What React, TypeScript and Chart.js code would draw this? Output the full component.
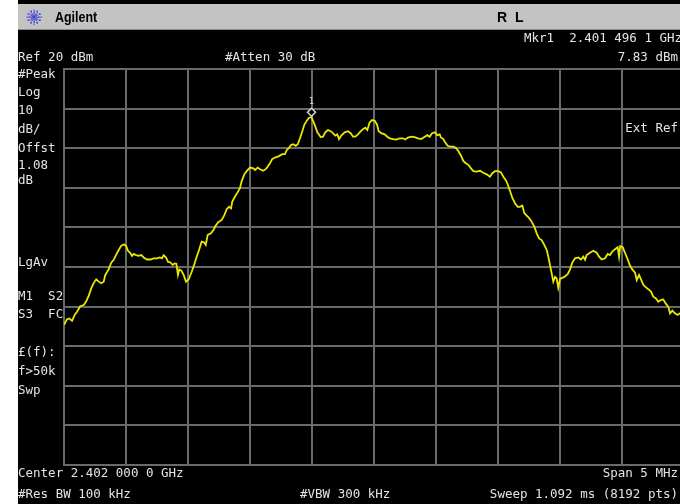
import React, { useEffect, useRef } from "react";
import { Chart, registerables } from "chart.js";

Chart.register(...registerables);

// ---- Data (frequency in MHz, level in dBm) ----
const FREQ_MHZ = [
  2399.5, 2399.524, 2399.543, 2399.565, 2399.586, 2399.605, 2399.631, 2399.659, 2399.677, 2399.699,
  2399.72, 2399.74, 2399.76, 2399.78, 2399.801, 2399.82, 2399.833, 2399.86, 2399.881, 2399.901,
  2399.919, 2399.941, 2399.962, 2399.984, 2400.0, 2400.016, 2400.035, 2400.048, 2400.062, 2400.081,
  2400.102, 2400.123, 2400.143, 2400.169, 2400.196, 2400.223, 2400.25, 2400.272, 2400.29, 2400.304,
  2400.323, 2400.339, 2400.357, 2400.377, 2400.39, 2400.406, 2400.419, 2400.43, 2400.446, 2400.465,
  2400.484, 2400.506, 2400.53, 2400.551, 2400.57, 2400.589, 2400.61, 2400.631, 2400.643, 2400.659,
  2400.685, 2400.704, 2400.723, 2400.744, 2400.772, 2400.793, 2400.812, 2400.831, 2400.847, 2400.857,
  2400.879, 2400.901, 2400.919, 2400.933, 2400.954, 2400.973, 2401.0, 2401.027, 2401.04, 2401.062,
  2401.081, 2401.107, 2401.127, 2401.143, 2401.161, 2401.18, 2401.207, 2401.234, 2401.26, 2401.282,
  2401.296, 2401.315, 2401.331, 2401.349, 2401.369, 2401.385, 2401.403, 2401.422, 2401.438, 2401.457,
  2401.476, 2401.496, 2401.522, 2401.543, 2401.57, 2401.589, 2401.607, 2401.629, 2401.651, 2401.669,
  2401.688, 2401.704, 2401.718, 2401.736, 2401.764, 2401.79, 2401.812, 2401.831, 2401.849, 2401.871,
  2401.893, 2401.911, 2401.93, 2401.946, 2401.965, 2401.984, 2402.006, 2402.024, 2402.038, 2402.059,
  2402.086, 2402.107, 2402.127, 2402.153, 2402.18, 2402.207, 2402.234, 2402.252, 2402.274, 2402.301,
  2402.328, 2402.355, 2402.381, 2402.409, 2402.43, 2402.449, 2402.468, 2402.49, 2402.51, 2402.53,
  2402.54, 2402.559, 2402.573, 2402.594, 2402.613, 2402.64, 2402.659, 2402.68, 2402.702, 2402.72,
  2402.74, 2402.761, 2402.782, 2402.801, 2402.828, 2402.855, 2402.881, 2402.909, 2402.935, 2402.954,
  2402.976, 2403.002, 2403.024, 2403.043, 2403.062, 2403.078, 2403.097, 2403.115, 2403.137, 2403.159,
  2403.177, 2403.196, 2403.212, 2403.231, 2403.25, 2403.272, 2403.293, 2403.312, 2403.331, 2403.352,
  2403.373, 2403.393, 2403.406, 2403.419, 2403.433, 2403.446, 2403.46, 2403.473, 2403.486, 2403.5,
  2403.535, 2403.562, 2403.581, 2403.599, 2403.621, 2403.648, 2403.669, 2403.688, 2403.702, 2403.715,
  2403.742, 2403.769, 2403.796, 2403.815, 2403.836, 2403.863, 2403.885, 2403.903, 2403.922, 2403.944,
  2403.965, 2403.976, 2403.986, 2404.006, 2404.024, 2404.046, 2404.065, 2404.083, 2404.105, 2404.119,
  2404.137, 2404.153, 2404.172, 2404.191, 2404.212, 2404.234, 2404.252, 2404.272, 2404.293, 2404.315,
  2404.333, 2404.352, 2404.373, 2404.387, 2404.406, 2404.427, 2404.449, 2404.468, 2404.5,
];

const LEVEL_DBM = [
  -44.6, -43.2, -43.0, -43.6, -42.1, -41.3, -39.9, -39.6, -38.8, -37.3,
  -35.4, -34.0, -33.1, -33.7, -34.1, -33.7, -32.0, -30.6, -28.9, -28.2,
  -27.0, -25.7, -24.6, -24.3, -24.6, -25.9, -26.5, -27.2, -26.7, -27.0,
  -27.2, -27.0, -27.6, -28.1, -28.1, -27.8, -27.8, -27.6, -27.8, -27.0,
  -27.6, -28.7, -28.8, -29.5, -29.1, -29.2, -32.0, -30.6, -30.9, -32.0,
  -33.7, -33.1, -31.2, -29.3, -27.4, -25.7, -23.6, -23.8, -24.4, -21.9,
  -21.5, -20.7, -19.6, -18.7, -18.1, -16.9, -15.4, -14.8, -15.2, -13.5,
  -12.2, -11.1, -10.1, -8.3, -6.6, -5.8, -4.9, -5.1, -5.5, -4.9,
  -5.3, -5.7, -5.3, -4.7, -3.8, -2.7, -2.3, -2.0, -1.5, -1.5,
  -0.5, 0.1, 0.8, 1.0, 0.6, 1.0, 2.5, 4.3, 5.9, 6.9,
  7.7, 7.83, 5.9, 4.0, 2.8, 2.9, 4.0, 4.6, 4.3, 3.8,
  3.2, 3.5, 2.3, 3.2, 4.0, 4.3, 3.8, 2.9, 2.9, 3.5,
  4.3, 4.8, 5.2, 4.6, 6.5, 7.1, 6.9, 6.0, 4.3, 3.8,
  3.5, 2.9, 2.5, 2.3, 2.2, 2.5, 2.5, 2.2, 2.7, 2.9,
  2.8, 2.5, 2.3, 2.9, 3.3, 2.9, 3.8, 4.0, 3.3, 3.5,
  2.7, 2.3, 1.5, 0.6, 0.4, 0.4, 0.1, -0.7, -1.9, -3.2,
  -3.8, -4.2, -5.1, -5.8, -5.9, -5.7, -6.2, -6.6, -7.2, -6.3,
  -5.8, -5.8, -6.1, -7.2, -8.0, -9.1, -10.8, -12.5, -13.9, -14.8,
  -14.8, -14.5, -16.4, -17.0, -17.6, -18.6, -19.8, -21.5, -22.8, -23.2,
  -24.4, -25.7, -27.4, -29.5, -31.6, -33.7, -32.5, -32.9, -35.2, -33.0,
  -32.5, -31.8, -30.6, -28.9, -27.8, -27.6, -28.1, -27.4, -28.2, -27.0,
  -26.4, -25.9, -26.4, -27.4, -28.1, -27.8, -26.7, -27.0, -26.1, -25.5,
  -25.0, -27.4, -24.7, -25.0, -26.4, -28.1, -29.7, -30.6, -31.4, -33.3,
  -32.0, -33.1, -34.5, -35.1, -35.6, -36.2, -37.5, -37.9, -38.8, -38.3,
  -38.2, -39.2, -40.0, -41.7, -41.0, -41.7, -42.1, -41.7, -42.1,
];

// Axis settings: center 2.402 GHz, span 5 MHz; ref 20 dBm, 10 dB/div
const X_RANGE = [2399.5, 2404.5];
const X_STEP = 0.5;
const Y_RANGE = [-80, 20];
const Y_STEP = 10;

// Marker 1
const MARKER_FREQ = [2401.4961];
const MARKER_DBM = [7.83];
const MARKER_LABEL = ["1"];

// Annotation texts
const LEFT_LABELS = ["#Peak", "Log", "10", "dB/", "Offst", "1.08", "dB", "LgAv", "M1  S2", "S3  FC", "£(f):", "f>50k", "Swp"];
const LEFT_LABEL_Y = [75, 93, 111, 130, 149, 166, 181, 263, 297, 315, 353, 372, 391];
const TITLE_TEXT = "Agilent";
const MODE_TEXT = ["R", "L"];
const HEADER_LEFT = "Ref 20 dBm";
const HEADER_MID = "#Atten 30 dB";
const MARKER_FREQ_TEXT = "Mkr1  2.401 496 1 GHz";
const MARKER_LEVEL_TEXT = "7.83 dBm";
const EXT_REF_TEXT = "Ext Ref";
const FOOTER_CENTER = "Center 2.402 000 0 GHz";
const FOOTER_SPAN = "Span 5 MHz";
const FOOTER_RBW = "#Res BW 100 kHz";
const FOOTER_VBW = "#VBW 300 kHz";
const FOOTER_SWEEP = "Sweep 1.092 ms (8192 pts)";

const MONO = '12.5px "DejaVu Sans Mono", monospace';
const TEXT_COLOR = "#e4e4e4";
const GRID_COLOR = "#6a6a6a";

const framePlugin = {
  id: "frame",
  beforeDraw(chart: any) {
    const ctx = chart.ctx as CanvasRenderingContext2D;
    const W = chart.width;
    const H = chart.height;
    ctx.save();
    ctx.fillStyle = "#ffffff";
    ctx.fillRect(0, 0, W, H);
    ctx.fillStyle = "#000000";
    ctx.fillRect(18, 0, W - 18, H);
    // title bar
    ctx.fillStyle = "#c3c3c3";
    ctx.fillRect(18, 4, W - 18, 25);
    ctx.fillStyle = "#8a8a8a";
    ctx.fillRect(18, 29, W - 18, 1);
    // logo starburst
    const cx = 34, cy = 17;
    ctx.fillStyle = "#3b3bd8";
    for (let k = 0; k < 12; k++) {
      const a = (k * Math.PI) / 6;
      for (let r = 2; r <= 7; r += 1.6) {
        ctx.fillRect(Math.round(cx + Math.cos(a) * r) - 0.5, Math.round(cy + Math.sin(a) * r) - 0.5, 1.3, 1.3);
      }
    }
    ctx.fillRect(cx - 1, cy - 1, 2, 2);
    // title texts
    ctx.fillStyle = "#000000";
    ctx.textBaseline = "middle";
    ctx.save();
    ctx.translate(55, 17.5);
    ctx.scale(0.86, 1);
    ctx.font = 'bold 14.5px "Liberation Sans", Arial, sans-serif';
    ctx.fillText(TITLE_TEXT, 0, 0);
    ctx.restore();
    ctx.font = 'bold 14px "Liberation Sans", Arial, sans-serif';
    ctx.fillText(MODE_TEXT[0], 497, 18);
    ctx.fillText(MODE_TEXT[1], 515, 18);
    ctx.restore();
  },
  afterDraw(chart: any) {
    const ctx = chart.ctx as CanvasRenderingContext2D;
    const xs = chart.scales.x;
    const ys = chart.scales.y;
    ctx.save();
    // marker
    for (let i = 0; i < MARKER_FREQ.length; i++) {
      const px = xs.getPixelForValue(MARKER_FREQ[i]);
      const py = ys.getPixelForValue(MARKER_DBM[i]) - 5;
      ctx.beginPath();
      ctx.moveTo(px, py - 4);
      ctx.lineTo(px + 4, py);
      ctx.lineTo(px, py + 4);
      ctx.lineTo(px - 4, py);
      ctx.closePath();
      ctx.fillStyle = "#000";
      ctx.fill();
      ctx.strokeStyle = "#d8d8d8";
      ctx.lineWidth = 1.5;
      ctx.stroke();
      ctx.fillStyle = "#d8d8d8";
      ctx.font = '9px "DejaVu Sans Mono", monospace';
      ctx.textAlign = "center";
      ctx.textBaseline = "middle";
      ctx.fillText(MARKER_LABEL[i], px, py - 11);
    }
    // annotation texts
    ctx.fillStyle = TEXT_COLOR;
    ctx.font = MONO;
    ctx.textBaseline = "middle";
    ctx.textAlign = "left";
    ctx.fillText(HEADER_LEFT, 18, 58);
    ctx.fillText(HEADER_MID, 225, 58);
    ctx.fillText(MARKER_FREQ_TEXT, 524, 39);
    ctx.textAlign = "right";
    ctx.fillText(MARKER_LEVEL_TEXT, 678, 58);
    ctx.fillText(EXT_REF_TEXT, 678, 129);
    ctx.textAlign = "left";
    for (let i = 0; i < LEFT_LABELS.length; i++) {
      ctx.fillText(LEFT_LABELS[i], 18, LEFT_LABEL_Y[i]);
    }
    ctx.fillText(FOOTER_CENTER, 18, 474);
    ctx.fillText(FOOTER_RBW, 18, 495);
    ctx.fillText(FOOTER_VBW, 300, 495);
    ctx.textAlign = "right";
    ctx.fillText(FOOTER_SPAN, 678, 474);
    ctx.fillText(FOOTER_SWEEP, 678, 495);
    ctx.restore();
  },
};

export default function App() {
  const canvasRef = useRef<HTMLCanvasElement>(null);

  useEffect(() => {
    const canvas = canvasRef.current;
    if (!canvas) return;
    const points = FREQ_MHZ.map((f, i) => ({ x: f, y: LEVEL_DBM[i] }));
    const chart = new Chart(canvas, {
      type: "line",
      data: {
        datasets: [
          {
            data: points,
            borderColor: "#e8e800",
            borderWidth: 1.8,
            pointRadius: 0,
            tension: 0,
          },
        ],
      },
      options: {
        responsive: false,
        animation: false,
        devicePixelRatio: 1,
        events: [],
        layout: { padding: { left: 64, top: 69, right: 6, bottom: 39 } },
        plugins: { legend: { display: false }, tooltip: { enabled: false } },
        scales: {
          x: {
            type: "linear",
            min: X_RANGE[0],
            max: X_RANGE[1],
            ticks: { display: false, stepSize: X_STEP },
            grid: { color: GRID_COLOR, lineWidth: 2, drawTicks: false },
            border: { display: true, color: GRID_COLOR, width: 2 },
          },
          y: {
            type: "linear",
            min: Y_RANGE[0],
            max: Y_RANGE[1],
            ticks: { display: false, stepSize: Y_STEP },
            grid: { color: GRID_COLOR, lineWidth: 2, drawTicks: false },
            border: { display: true, color: GRID_COLOR, width: 2 },
          },
        },
      } as any,
      plugins: [framePlugin],
    });
    return () => chart.destroy();
  }, []);

  return (
    <div
      style={{
        position: "fixed",
        left: 0,
        top: 0,
        width: 680,
        height: 504,
        overflow: "hidden",
        background: "#ffffff",
      }}
    >
      <canvas ref={canvasRef} width={690} height={504} style={{ display: "block", width: 690, height: 504 }} />
    </div>
  );
}
